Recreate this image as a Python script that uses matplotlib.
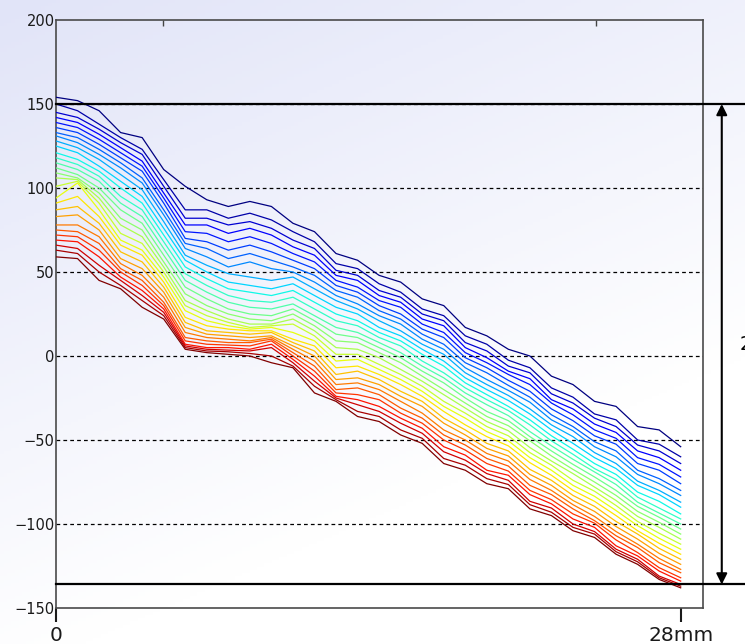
import numpy as np
import matplotlib
matplotlib.use("Agg")
import matplotlib.pyplot as plt

# sample positions along the section (mm)
x_mm = np.linspace(0, 28, 30)

# depth of each of the 28 traces at every sample position, top trace first
profiles = [
    [154, 150, 145, 142, 139, 136, 133, 131, 128, 125, 121, 118, 115, 112, 109, 106, 101, 94, 91, 87, 83, 78, 75, 72, 69, 66, 63, 59],
    [152, 146, 142, 139, 136, 133, 130, 127, 124, 121, 117, 114, 111, 108, 106, 105, 104, 103, 95, 89, 84, 78, 74, 71, 68, 64, 61, 58],
    [146, 138, 135, 132, 129, 126, 123, 120, 117, 113, 110, 107, 104, 100, 97, 94, 91, 87, 83, 79, 75, 71, 67, 63, 59, 54, 50, 45],
    [133, 130, 127, 124, 121, 118, 115, 112, 108, 104, 100, 95, 91, 87, 82, 78, 73, 69, 66, 62, 58, 55, 52, 50, 47, 45, 42, 40],
    [130, 123, 120, 116, 113, 110, 106, 103, 99, 95, 91, 87, 83, 79, 75, 71, 67, 63, 60, 56, 52, 48, 45, 42, 39, 36, 33, 29],
    [111, 105, 101, 97, 94, 91, 87, 84, 80, 76, 72, 68, 64, 60, 56, 53, 50, 47, 44, 41, 38, 35, 32, 30, 28, 26, 24, 22],
    [101, 87, 82, 78, 74, 70, 67, 64, 60, 57, 53, 49, 45, 41, 37, 33, 30, 27, 23, 20, 17, 14, 11, 9, 7, 6, 5, 4],
    [93, 87, 82, 78, 73, 68, 64, 59, 54, 50, 46, 42, 38, 34, 30, 27, 24, 21, 18, 15, 13, 11, 9, 7, 5, 4, 3, 2],
    [89, 82, 78, 73, 68, 63, 58, 53, 49, 44, 40, 36, 32, 28, 25, 22, 20, 18, 16, 14, 12, 10, 8, 6.5, 5, 3.5, 2.5, 1],
    [92, 85, 80, 76, 71, 66, 61, 56, 47, 42, 38, 33, 29, 25, 22, 19, 17, 16, 15, 13, 11, 9, 8, 6, 4, 3, 1.5, 0],
    [89, 81, 76, 72, 67, 62, 57, 52, 45, 40, 36, 32, 28, 24, 21, 19, 18, 17, 15, 14, 12, 11, 10, 9, 7, 5, 0, -4],
    [79, 74, 69, 65, 61, 57, 53, 50, 47, 43, 39, 35, 31, 28, 25, 22, 19, 14, 10, 8, 6, 4, 2, 0, -2, -4, -6, -7],
    [74, 68, 64, 60, 56, 52, 48, 44, 40, 36, 32, 28, 24, 21, 18, 15, 12, 9, 6, 3, 0, -3, -6, -9, -12, -15, -18, -22],
    [61, 55, 51, 48, 45, 42, 39, 36, 33, 29, 25, 21, 17, 13, 9, 5, 1, -3, -7, -11, -14, -17, -20, -22, -24, -25, -26, -27],
    [57, 52, 48, 45, 41, 38, 35, 31, 28, 25, 21, 18, 14, 11, 8, 4, 1, -2, -6, -9, -13, -16, -19, -23, -26, -29, -33, -36],
    [48, 43, 39, 36, 33, 30, 27, 24, 21, 17, 14, 11, 8, 5, 2, -1, -5, -8, -11, -14, -17, -20, -23, -26, -30, -33, -36, -39],
    [44, 38, 35, 32, 29, 25, 22, 19, 15, 12, 9, 6, 2, -1, -4, -8, -11, -14, -17, -21, -24, -27, -31, -34, -37, -40, -44, -47],
    [34, 28, 25, 22, 19, 16, 13, 10, 7, 4, 1, -3, -6, -9, -12, -15, -18, -21, -24, -27, -30, -34, -37, -40, -43, -46, -49, -52],
    [30, 24, 21, 18, 14, 11, 7, 4, 1, -3, -6, -10, -13, -16, -20, -23, -27, -30, -33, -37, -40, -44, -47, -50, -54, -57, -61, -64],
    [17, 12, 8, 5, 2, -1, -4, -7, -10, -13, -16, -19, -22, -25, -28, -31, -34, -37, -41, -44, -47, -50, -53, -56, -59, -62, -65, -68],
    [12, 7, 3, -1, -4, -7, -10, -14, -17, -20, -23, -26, -29, -33, -36, -39, -42, -45, -48, -52, -55, -58, -61, -64, -68, -70, -73, -76],
    [4, -2.5, -6, -9, -11, -14.5, -17.5, -20.5, -23.5, -26.5, -30, -32.5, -35.5, -38.5, -41.5, -44.5, -47.5, -50.5, -53.5, -56.5, -59.5, -62.5, -65.5, -68.5, -71, -74, -76.5, -79],
    [0, -7, -10, -13.5, -17, -21, -24.5, -27.5, -31.5, -34.5, -38, -41, -45, -48, -50.5, -54.5, -57.5, -60.5, -63.5, -67.5, -70.5, -73.5, -77, -80, -82.5, -86.5, -88.5, -91],
    [-12, -19, -22.5, -26, -28, -31.5, -35, -38, -41, -44, -47.5, -50.5, -53.5, -56.5, -59.5, -62.5, -65, -68, -71, -74, -77, -80, -82.5, -85.5, -88, -90.5, -93, -95],
    [-17, -24.5, -28, -31.5, -35, -38.5, -42, -44.5, -48, -52, -55.5, -58.5, -61.5, -64.5, -67.5, -70, -74, -77, -80, -83, -86, -88.5, -91, -94, -97, -100, -102, -104],
    [-27, -34.5, -37, -40.5, -44, -47.5, -51, -54, -57.5, -60.5, -64, -67, -69, -72, -75, -78, -80.5, -83.5, -86.5, -89.5, -92.5, -95.5, -98, -99.5, -102, -104.5, -106, -108],
    [-30, -38, -42, -45.5, -49, -52.5, -56.5, -60, -64, -67, -70.5, -73.5, -76.5, -80, -83, -86, -89, -92, -95, -98.5, -101.5, -104.5, -107, -109.5, -113, -115, -116.5, -118],
    [-42, -50, -53, -56.5, -60.5, -64, -68, -70.5, -74.5, -77, -81, -84, -87, -89.5, -92.5, -95.5, -98.5, -101, -104, -106, -109, -112, -114, -117, -119, -121, -122.5, -124],
    [-44, -52.5, -56.5, -60.5, -64.5, -68, -73, -76, -80, -82.5, -86.5, -90.5, -93.5, -96, -99, -102, -105.5, -108.5, -111.5, -114.5, -117.5, -120.5, -123, -126, -128, -131, -132, -133],
    [-54, -60, -64, -68, -72, -76, -80, -83, -87, -90, -94, -97, -100, -103, -106, -109, -112, -115, -118, -121, -124, -127, -129, -132, -134, -136, -137, -138],
]

y_ticks = [200, 150, 100, 50, 0, -50, -100, -150]
grid_levels = [150, 100, 50, 0, -50, -100]
x_ticks = [0, 28]
x_labels = ["0", "28mm"]
top_level = 150
bottom_level = -136
span_label = "286"

traces = np.array(profiles).T
n = traces.shape[0]

fig = plt.figure(figsize=(7.45, 6.44), dpi=100)

# soft lavender gradient behind everything
bg = fig.add_axes([0, 0, 1, 1], zorder=-5)
gy, gx = np.mgrid[0:1:200j, 0:1:200j]
t = np.clip((gy * 0.9 + gx * 0.45) / 0.95, 0, 1)
c0 = np.array([225, 228, 248]) / 255.0
c1 = np.array([255, 255, 255]) / 255.0
img = c0[None, None, :] * (1 - t[..., None]) + c1[None, None, :] * t[..., None]
bg.imshow(img, extent=[0, 1, 0, 1], aspect="auto", origin="upper")
bg.axis("off")

ax = fig.add_axes([56 / 745, 1 - 608 / 644, 647 / 745, 588 / 644])
ax.set_facecolor("none")

cmap = plt.get_cmap("jet")
for k in range(n):
    ax.plot(x_mm, traces[k], color=cmap(k / (n - 1)), lw=0.9, zorder=3)

for lv in grid_levels:
    ax.axhline(lv, color="black", lw=0.9, ls=(0, (3, 2.5)), zorder=2)

for lv in (top_level, bottom_level):
    ax.plot([0, 1.09], [lv, lv], transform=ax.get_yaxis_transform(),
            color="black", lw=1.6, clip_on=False, zorder=4)

ax.annotate("", xy=(1.029, top_level), xytext=(1.029, bottom_level),
            xycoords=ax.get_yaxis_transform(), textcoords=ax.get_yaxis_transform(),
            arrowprops=dict(arrowstyle="<|-|>", lw=1.5, color="black",
                            mutation_scale=16, shrinkA=0, shrinkB=0),
            annotation_clip=False)
ax.text(1.056, (top_level + bottom_level) / 2, span_label,
        transform=ax.get_yaxis_transform(), fontsize=14, va="center", ha="left",
        clip_on=False)

ax.set_xlim(0, 29)
ax.set_ylim(-150, 200)
ax.set_yticks(y_ticks)
ax.set_yticklabels([str(v).replace("-", "\u2212") for v in y_ticks])
ax.set_xticks(x_ticks)
ax.set_xticklabels(x_labels)
ax.tick_params(axis="y", length=0, pad=1, labelsize=10.5, colors="#1a1a1a")
ax.tick_params(axis="x", length=10, width=1.5, direction="out", pad=3,
               labelsize=14.5, colors="#1a1a1a")
ax.set_xticks([4.8, 24.2], minor=True)
ax.tick_params(axis="x", which="minor", top=True, bottom=False, direction="in",
               length=4, width=1, color="#444444")

for s in ax.spines.values():
    s.set_color("#4a4a4a")
    s.set_linewidth(1.2)

fig.savefig("out.png", dpi=100)
